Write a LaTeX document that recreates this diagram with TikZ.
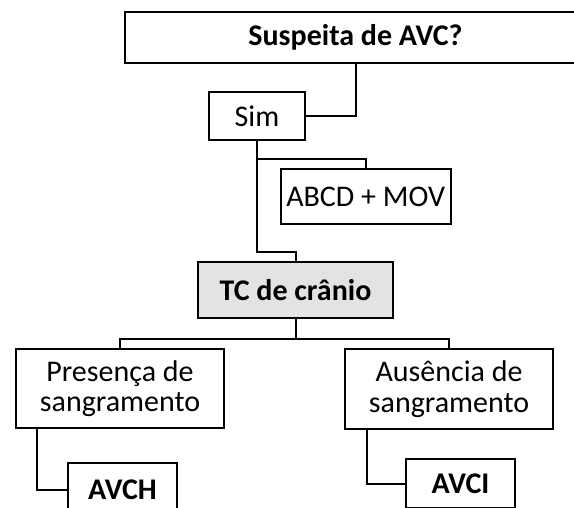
\documentclass[tikz,border=0pt]{standalone}
\usepackage{fontspec}
\setmainfont{Carlito}
\begin{document}
\begin{tikzpicture}[x=1pt,y=-1pt,
  box/.style={draw=black,line width=2pt,rectangle,inner sep=0pt,align=center,
    font=\fontsize{30}{30.5}\selectfont},
  bbox/.style={box,font=\fontsize{30}{30.5}\selectfont\bfseries},
  conn/.style={draw=black,line width=2pt}]
\useasboundingbox (0,0) rectangle (574,508);
\node[bbox,minimum width=461pt,minimum height=51.3pt] (top) at (355.5,37.7) {Suspeita de AVC?};
\node[box,minimum width=96pt,minimum height=48.3pt] (sim) at (257,116) {Sim};
\node[box,minimum width=170pt,minimum height=54.7pt] (abcd) at (365.7,196.7) {ABCD + MOV};
\node[bbox,fill=black!11,minimum width=195pt,minimum height=56pt] (tc) at (295.5,290) {TC de crânio};
\node[box,minimum width=208pt,minimum height=79pt] (pres) at (120,388.5) {Presença de\\sangramento};
\node[box,minimum width=208pt,minimum height=79pt] (aus) at (449,389) {Ausência de\\sangramento};
\node[bbox,minimum width=109pt,minimum height=54pt] (avch) at (122.5,490) {AVCH};
\node[bbox,minimum width=109pt,minimum height=49.3pt] (avci) at (460.5,483.6) {AVCI};
\coordinate (j1) at (0,252);
\coordinate (j2) at (0,159.3);
\coordinate (j3) at (0,339);
\draw[conn] (top.south) |- (sim.east);
\draw[conn] (sim.south) -- (sim.south |- j1) -| (tc.north);
\draw[conn] (sim.south |- j2) -| (abcd.north);
\draw[conn] (tc.south) -- (tc.south |- j3);
\draw[conn] (pres.north) -- (pres.north |- j3) -| (aus.north);
\draw[conn] ([xshift=-83pt]pres.south) |- (avch.west);
\draw[conn] ([xshift=-82pt]aus.south) |- (avci.west);
\end{tikzpicture}
\end{document}
